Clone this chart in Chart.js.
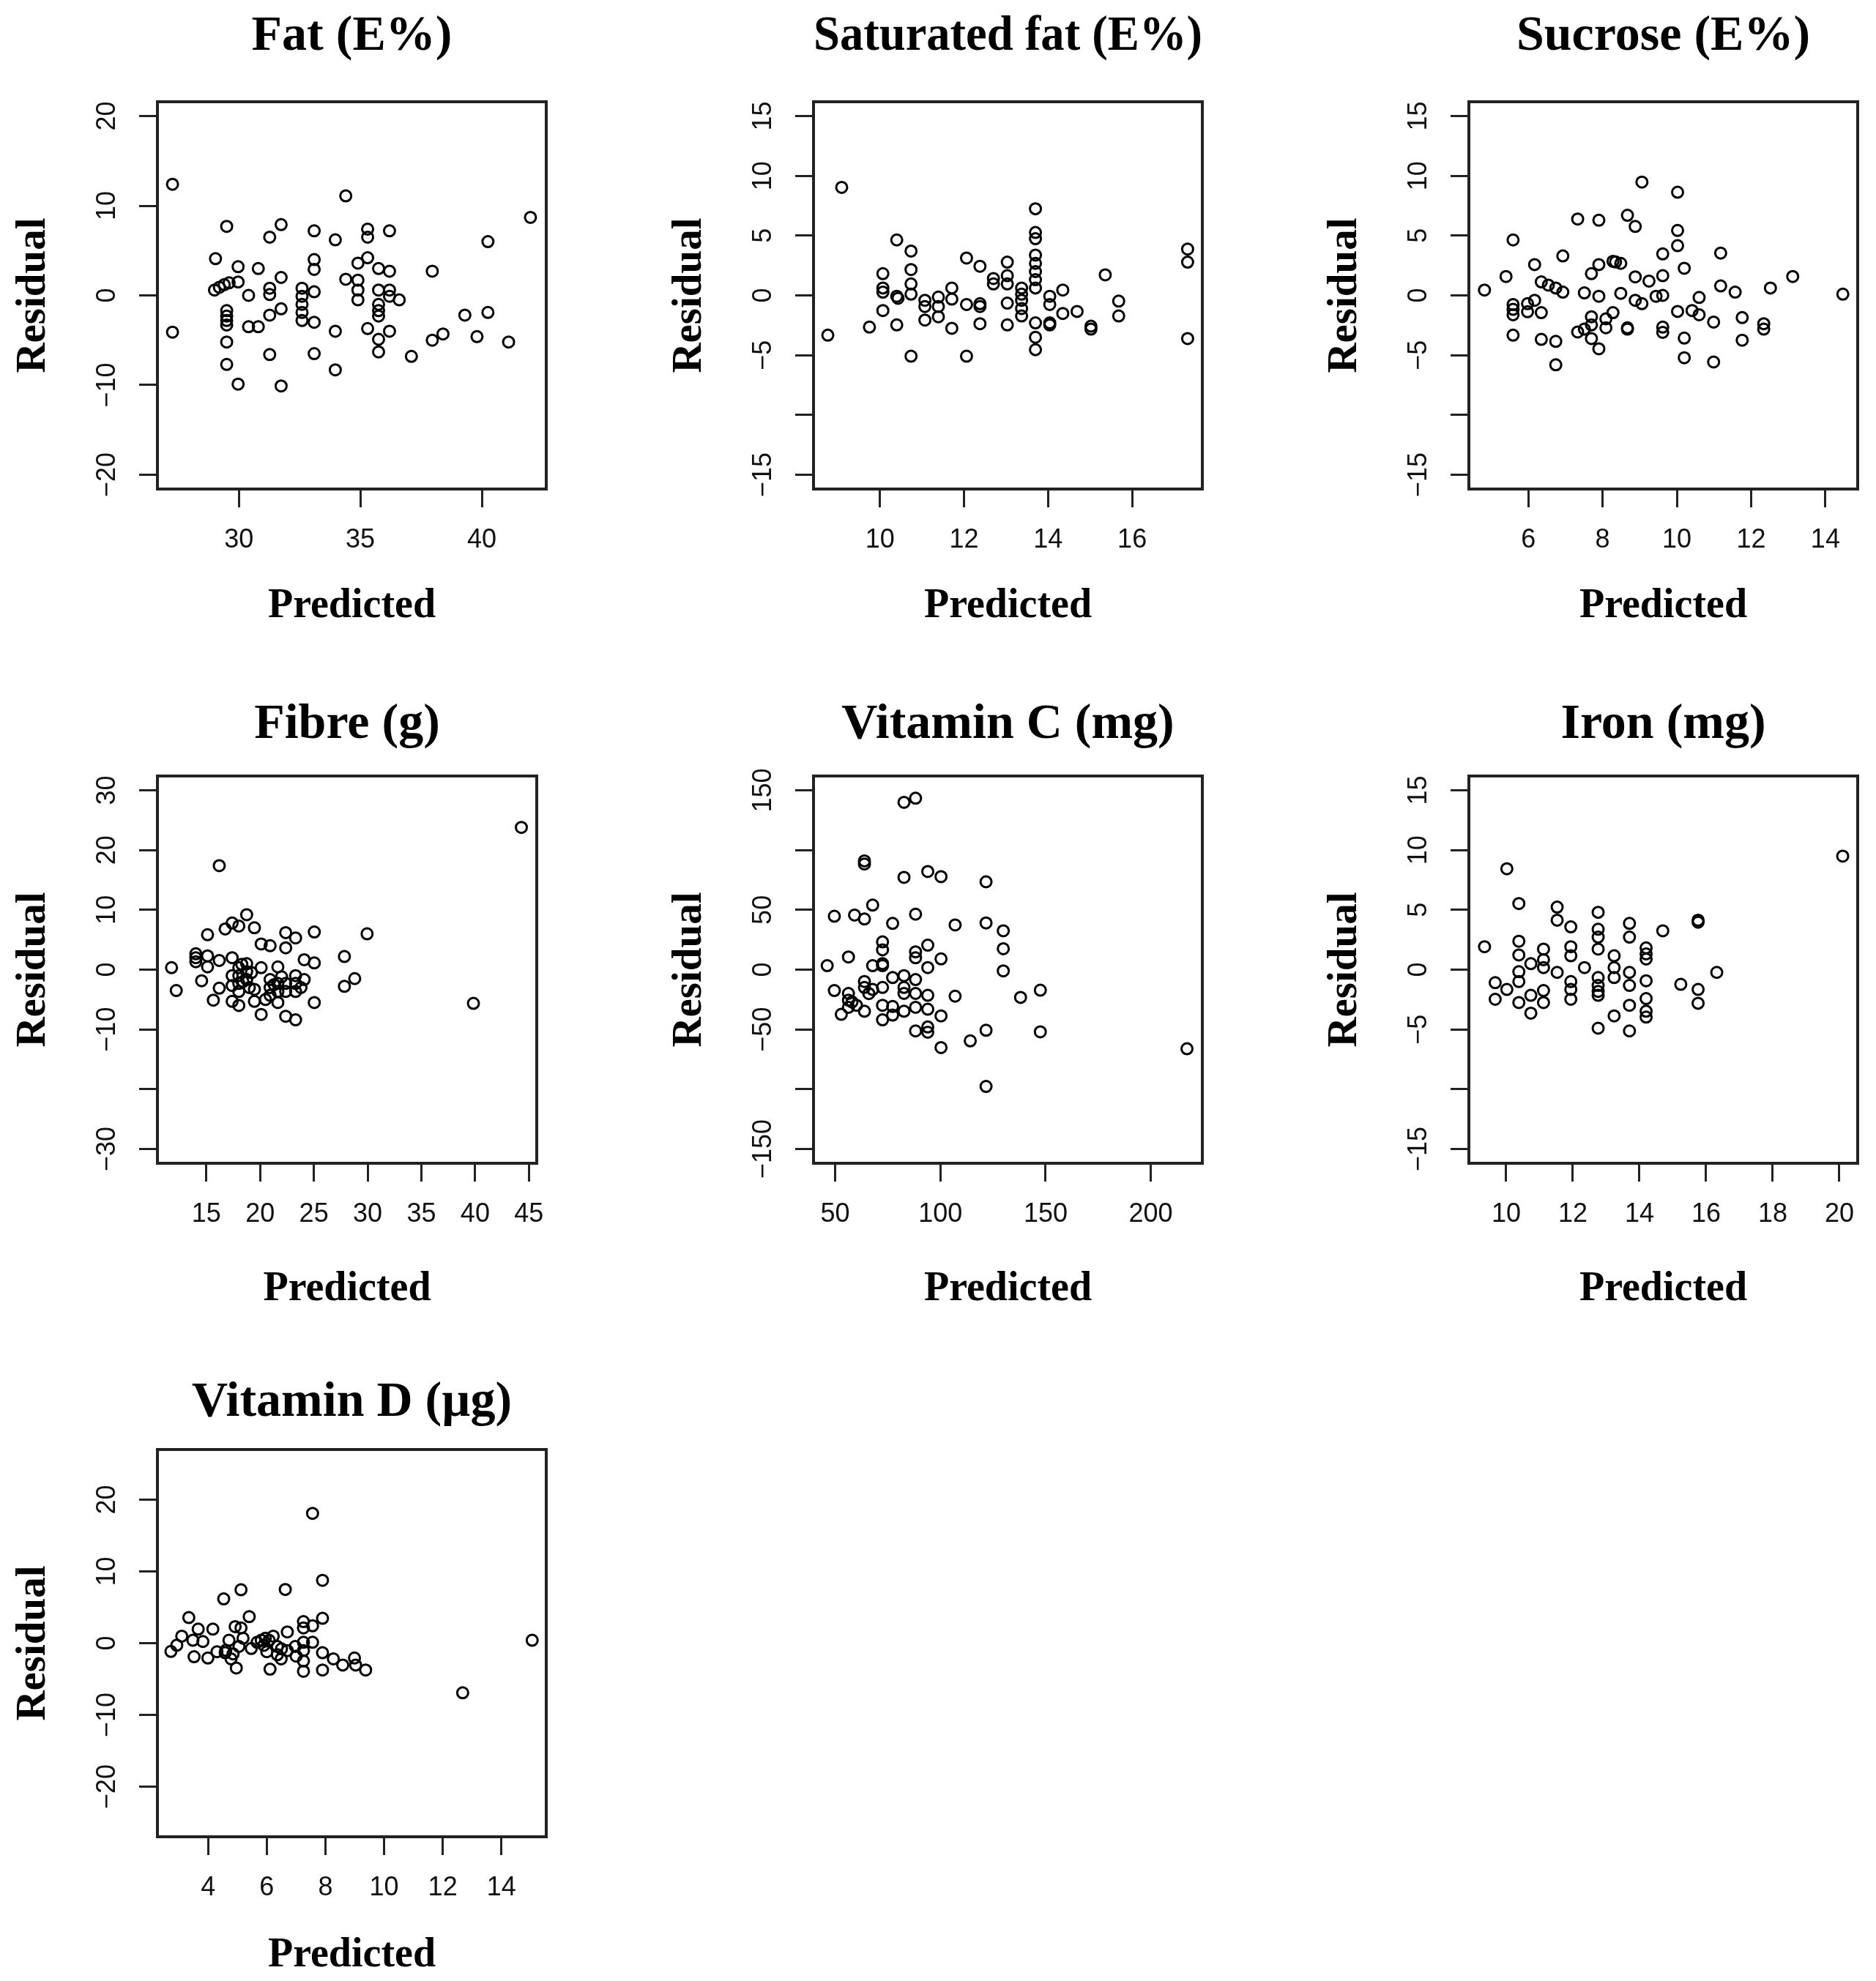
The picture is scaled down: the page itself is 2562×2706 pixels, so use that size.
<!DOCTYPE html>
<html><head><meta charset="utf-8">
<script src="https://cdn.jsdelivr.net/npm/chart.js@4"></script>
<style>
html,body{margin:0;padding:0;background:#fff;}
body{width:2562px;height:2706px;overflow:hidden;position:relative;}
canvas{position:absolute;}
</style></head><body>
<script>
// ---------- DATA ----------
const fatPredicted = [27.27,27.27,29.04,29.0,29.2,29.4,29.6,29.5,29.5,29.5,29.5,29.5,29.5,29.5,29.97,29.97,29.97,30.4,30.4,30.8,30.8,31.27,31.27,31.27,31.27,31.27,31.74,31.74,31.74,31.74,32.6,32.6,32.6,32.6,32.6,33.1,33.1,33.1,33.1,33.1,33.1,33.97,33.97,33.97,34.4,34.4,34.9,34.9,34.9,34.9,35.3,35.3,35.3,35.3,35.75,35.75,35.75,35.75,35.75,35.75,35.75,36.2,36.2,36.2,36.2,36.2,36.6,37.1,37.96,37.96,38.4,39.3,39.8,40.25,40.25,41.1,42.0];
const fatResidual  = [12.4,-4.1,4.1,0.6,0.9,1.2,1.4,7.7,-1.7,-2.3,-2.8,-3.3,-5.2,-7.7,3.2,1.5,-9.9,0,-3.5,3.0,-3.5,6.5,0.8,0.1,-2.2,-6.6,7.9,2.0,-1.5,-10.1,0.8,-0.1,-1.0,-1.9,-2.8,7.2,4.0,2.9,0.4,-3.0,-6.5,6.2,-4.0,-8.3,11.1,1.8,3.6,1.7,0.6,-0.5,7.4,6.5,4.2,-3.7,3.0,0.6,-1.0,-1.7,-2.3,-4.9,-6.3,7.2,2.7,0.6,-0.1,-4.0,-0.5,-6.8,2.7,-5.0,-4.3,-2.2,-4.6,6.0,-1.9,-5.2,8.7];

const satFatPredicted = [8.76,9.09,9.75,10.07,10.07,10.07,10.07,10.40,10.40,10.43,10.40,10.74,10.74,10.74,10.74,10.74,11.07,11.07,11.07,11.39,11.39,11.39,11.71,11.71,11.71,12.06,12.06,12.06,12.38,12.38,12.38,12.38,12.70,12.70,13.03,13.03,13.03,13.03,13.03,13.37,13.37,13.37,13.37,13.37,13.70,13.70,13.70,13.70,13.70,13.70,13.70,13.70,13.70,13.70,13.70,14.04,14.04,14.04,14.04,14.35,14.35,14.69,15.02,15.02,15.36,15.68,15.68,17.32,17.32,17.32];
const satFatResidual  = [-3.33,9.04,-2.65,1.82,0.62,0.27,-1.27,4.64,-0.07,-0.24,-2.47,3.71,2.16,0.96,0.1,-5.09,-0.41,-0.93,-2.06,-0.14,-0.93,-1.79,0.62,-0.31,-2.75,3.13,-0.76,-5.09,2.44,-0.69,-0.93,-2.37,1.41,0.96,2.78,1.65,0.96,-0.65,-2.47,0.62,0.1,-0.41,-1.1,-1.72,7.25,5.26,4.74,3.37,2.68,1.99,1.31,0.62,-2.30,-3.5,-4.54,-0.07,-0.76,-2.3,-2.47,0.45,-1.51,-1.34,-2.58,-2.82,1.72,-0.48,-1.72,3.88,2.78,-3.61];

const sucrosePredicted = [4.82,5.40,5.59,5.59,5.59,5.59,5.59,5.98,5.98,6.17,6.17,6.35,6.35,6.35,6.54,6.74,6.74,6.74,6.93,6.93,7.33,7.33,7.51,7.51,7.70,7.70,7.70,7.70,7.90,7.90,7.90,7.90,8.09,8.09,8.28,8.28,8.35,8.49,8.49,8.67,8.67,8.67,8.88,8.88,8.88,9.06,9.06,9.25,9.44,9.62,9.62,9.62,9.62,9.62,10.02,10.02,10.02,10.02,10.20,10.20,10.20,10.41,10.60,10.60,10.99,10.99,11.18,11.18,11.57,11.76,11.76,12.34,12.34,12.52,13.12,14.47];
const sucroseResidual  = [0.45,1.58,4.64,-0.76,-1.17,-1.62,-3.33,-0.69,-1.37,2.58,-0.41,1.13,-1.44,-3.68,0.86,0.62,-3.85,-5.81,3.30,0.27,6.39,-3.06,0.21,-2.82,1.82,-1.79,-2.47,-3.61,6.29,2.58,-0.07,-4.47,-1.96,-2.71,-1.44,2.85,2.80,2.68,0.17,6.70,-2.71,-2.82,5.77,1.55,-0.41,9.48,-0.69,1.20,-0.07,3.47,1.65,0,-2.65,-3.09,8.63,5.43,4.16,-1.34,2.27,-3.57,-5.22,-1.27,-0.17,-1.62,-2.23,-5.57,3.54,0.79,0.27,-1.86,-3.75,-2.37,-2.82,0.62,1.58,0.1];

const fibrePredicted = [11.76,12.2,14.02,14.02,14.02,14.56,15.11,15.11,15.11,15.65,16.2,16.2,16.2,16.75,17.4,17.4,17.4,17.4,17.4,18.02,18.02,18.02,18.02,18.02,18.02,18.75,18.75,18.75,18.75,19.47,19.47,19.47,20.1,20.1,20.1,20.93,20.93,20.93,20.93,21.65,21.65,21.65,21.65,22.38,22.38,22.38,22.38,22.38,23.3,23.3,23.3,23.3,23.3,24.1,24.1,25.04,25.04,25.04,27.84,27.84,28.8,29.95,39.84,44.3,18.4,19.0,21.3,22.0,20.5,23.8,18.3,19.2];
const fibreResidual  = [0.33,-3.5,2.65,2.0,1.33,-1.86,5.84,2.3,0.46,-5.1,17.4,1.53,-3.1,6.8,7.8,2.0,-1.0,-2.65,-5.3,7.3,0.33,-1.0,-2.3,-3.65,-6.0,9.2,1.0,-0.33,-1.66,7.0,-3.3,-5.3,4.3,0.33,-7.5,4.0,-1.66,-3.0,-4.3,0.46,-2.3,-3.65,-5.5,6.2,3.65,-2.3,-3.65,-7.8,5.3,-1.0,-2.3,-3.65,-8.4,1.66,-1.66,6.3,1.13,-5.5,2.2,-2.8,-1.5,6.0,-5.64,23.8,-2.0,-3.0,-2.5,-1.2,-5.0,-3.0,0.9,-0.5];

const vitCPredicted = [46.2,49.6,49.6,52.9,56.3,56.3,56.3,56.3,59.2,60.1,63.9,63.9,63.9,63.9,63.9,63.9,67.8,67.8,67.8,72.5,72.5,72.5,72.5,72.5,72.5,72.5,77.3,77.3,77.3,77.3,82.7,82.7,82.7,82.7,82.7,82.7,88.2,88.2,88.2,88.2,88.2,88.2,88.2,88.2,94.0,94.0,94.0,94.0,94.0,94.0,94.0,100.3,100.3,100.3,100.3,107,107,114.2,121.7,121.7,121.7,121.7,129.9,129.9,129.9,138.1,147.5,147.5,217.2,58,66];
const vitCResidual  = [3.3,44.7,-17.5,-37.4,10.6,-19.9,-25.5,-31.5,45.7,-29.8,91,88.4,42.4,-9.9,-14.9,-34.8,54.0,3.3,-16.6,23.2,16.6,5.0,3.3,-14.9,-29.8,-42,38.7,-6.6,-30.8,-38,140,77.2,-5,-14.9,-19.9,-34.8,143.4,46.4,14.9,9.9,-8.3,-19.9,-31.5,-51.3,82.1,20.5,1.7,-21.5,-33.1,-48,-52.3,77.8,9.0,-38.7,-65.2,37.4,-22.2,-59.6,73.5,39.1,-50.7,-97.7,32.5,17.5,-1.0,-23.2,-17.2,-52,-66.2,-27,-20];

const ironPredicted = [9.35,9.67,9.67,10.02,10.02,10.38,10.38,10.38,10.38,10.38,10.38,10.74,10.74,10.74,11.12,11.12,11.12,11.12,11.12,11.53,11.53,11.53,11.94,11.94,11.94,11.94,11.94,11.94,12.35,12.76,12.76,12.76,12.76,12.76,12.76,12.76,12.76,12.76,13.24,13.24,13.24,13.24,13.7,13.7,13.7,13.7,13.7,13.7,14.2,14.2,14.2,14.2,14.2,14.2,14.2,14.7,15.24,15.76,15.76,15.76,15.76,16.32,20.1];
const ironResidual  = [1.92,-1.09,-2.48,8.44,-1.66,5.53,2.38,1.23,-0.17,-1.0,-2.75,0.5,-2.15,-3.64,1.72,0.83,0.17,-1.75,-2.75,5.23,4.14,-0.23,3.58,1.92,1.16,-1.0,-1.66,-2.48,0.17,4.8,3.38,2.72,1.72,-0.66,-1.32,-1.82,-2.15,-4.9,1.16,0.17,-0.66,-3.87,3.87,2.72,-0.23,-1.32,-2.98,-5.13,1.82,1.32,0.89,-0.93,-2.42,-3.48,-3.97,3.25,-1.23,4.14,3.97,-1.66,-2.81,-0.23,9.5];

const vitDPredicted = [2.73,2.93,3.10,3.34,3.48,3.52,3.66,3.82,3.99,4.16,4.30,4.53,4.58,4.71,4.78,4.92,4.96,5.05,5.12,5.12,5.19,5.40,5.47,5.67,5.81,5.95,6.08,6.22,6.11,6.36,6.36,6.49,6.63,6.70,6.70,6.97,7.25,7.25,7.25,7.25,7.25,7.25,7.56,7.56,7.56,7.90,7.90,7.90,7.90,8.27,8.59,8.99,9.03,9.37,12.68,15.05,4.6,4.85,5.9,6.0,6.5,7.0];
const vitDResidual  = [-1.15,-0.29,0.98,3.57,0.4,-1.9,1.96,0.23,-2.07,1.96,-1.2,6.17,-1.33,0.4,-2.19,2.3,-3.46,-0.46,7.44,2.13,0.69,3.69,-0.75,0.12,0.4,0.69,0.4,0.98,-3.63,-0.46,-1.61,-2.19,7.49,1.56,-1.04,-0.46,3.0,2.13,0.12,-1.04,-2.48,-3.92,18.1,2.42,0.12,8.76,3.46,-1.33,-3.75,-2.19,-3.05,-2.07,-3.05,-3.75,-6.92,0.4,-1.0,-1.5,-0.3,-1.2,-0.8,-1.8];

// tick values / labels
const fatXTicks = [30,35,40];
const fatYTicks = [-20,-10,0,10,20];
const fatYLabels = ['\u221220','\u221210','0','10','20'];
const satFatXTicks = [10,12,14,16];
const satFatYTicks = [-15,-10,-5,0,5,10,15];
const satFatYLabels = ['\u221215','','\u22125','0','5','10','15'];
const sucroseXTicks = [6,8,10,12,14];
const sucroseYTicks = [-15,-10,-5,0,5,10,15];
const sucroseYLabels = ['\u221215','','\u22125','0','5','10','15'];
const fibreXTicks = [15,20,25,30,35,40,45];
const fibreYTicks = [-30,-20,-10,0,10,20,30];
const fibreYLabels = ['\u221230','','\u221210','0','10','20','30'];
const vitCXTicks = [50,100,150,200];
const vitCYTicks = [-150,-100,-50,0,50,100,150];
const vitCYLabels = ['\u2212150','','\u221250','0','50','','150'];
const ironXTicks = [10,12,14,16,18,20];
const ironYTicks = [-15,-10,-5,0,5,10,15];
const ironYLabels = ['\u221215','','\u22125','0','5','10','15'];
const vitDXTicks = [4,6,8,10,12,14];
const vitDYTicks = [-20,-10,0,10,20];
const vitDYLabels = ['\u221220','\u221210','0','10','20'];

const titles = ['Fat (E%)','Saturated fat (E%)','Sucrose (E%)','Fibre (g)','Vitamin C (mg)','Iron (mg)','Vitamin D (\u00b5g)'];

// ---------- PANELS (layout + scale ranges) ----------
const panels = [
  {title:titles[0], pred:fatPredicted, resid:fatResidual, xt:fatXTicks, yt:fatYTicks, yl:fatYLabels, xr:[26.65,42.65], yr:[-21.6,21.6], L:215, T:139, tp:9.8, xp:26},
  {title:titles[1], pred:satFatPredicted, resid:satFatResidual, xt:satFatXTicks, yt:satFatYTicks, yl:satFatYLabels, xr:[8.42,17.67], yr:[-16.2,16.2], L:1111, T:139, tp:9.8, xp:26},
  {title:titles[2], pred:sucrosePredicted, resid:sucroseResidual, xt:sucroseXTicks, yt:sucroseYTicks, yl:sucroseYLabels, xr:[4.40,14.87], yr:[-16.2,16.2], L:2006, T:139, tp:9.8, xp:26},
  {title:titles[3], pred:fibrePredicted, resid:fibreResidual, xt:fibreXTicks, yt:fibreYTicks, yl:fibreYLabels, xr:[10.45,45.73], yr:[-32.4,32.4], L:215, T:1060, tp:28.8, xp:14},
  {title:titles[4], pred:vitCPredicted, resid:vitCResidual, xt:vitCXTicks, yt:vitCYTicks, yl:vitCYLabels, xr:[39.7,224.5], yr:[-162,162], L:1111, T:1060, tp:28.8, xp:14},
  {title:titles[5], pred:ironPredicted, resid:ironResidual, xt:ironXTicks, yt:ironYTicks, yl:ironYLabels, xr:[8.88,20.55], yr:[-16.2,16.2], L:2006, T:1060, tp:28.8, xp:14},
  {title:titles[6], pred:vitDPredicted, resid:vitDResidual, xt:vitDXTicks, yt:vitDYTicks, yl:vitDYLabels, xr:[2.27,15.53], yr:[-27,27], L:215, T:1980, tp:34.8, xp:24}
];

const BOX_W = 531, BOX_H = 529, AX_W = 215, TITLE_H = 139, AX_H = 220, PAD_R = 20;
const SERIF = '"Liberation Serif", "Times New Roman", Times, serif';
const SANS = '"Liberation Sans", Arial, Helvetica, sans-serif';
const TICK_SIZE = 36;
const mctx = document.createElement('canvas').getContext('2d');
mctx.font = TICK_SIZE + 'px ' + SANS;

const boxPlugin = {
  id:'rbox',
  afterDatasetsDraw(chart){
    const a = chart.chartArea, ctx = chart.ctx;
    ctx.save();
    ctx.strokeStyle = '#222'; ctx.lineWidth = 4;
    ctx.strokeRect(a.left, a.top, a.right - a.left, a.bottom - a.top);
    ctx.restore();
  }
};

panels.forEach(p => {
  const W = AX_W + BOX_W + PAD_R, H = TITLE_H + BOX_H + AX_H;
  const c = document.createElement('canvas');
  c.width = W; c.height = H;
  c.style.width = W + 'px'; c.style.height = H + 'px';
  c.style.left = (p.L - AX_W) + 'px'; c.style.top = (p.T - TITLE_H) + 'px';
  document.body.appendChild(c);
  const widest = Math.max(...p.yl.map(l => mctx.measureText(l).width));
  const yPad = 68 - 25 - widest / 2;
  const titleLH = 68 * 1.2;
  new Chart(c, {
    type:'scatter',
    data:{datasets:[{
      data:p.pred.map((x,i)=>({x:x, y:p.resid[i]})),
      pointStyle:'circle', pointRadius:7.5, pointHoverRadius:7.5,
      borderColor:'#000', backgroundColor:'rgba(0,0,0,0)', borderWidth:3
    }]},
    options:{
      responsive:false, animation:false, devicePixelRatio:1,
      layout:{padding:{left:0, right:PAD_R, top:0, bottom:0}},
      plugins:{
        legend:{display:false}, tooltip:{enabled:false},
        title:{display:true, text:p.title, fullSize:false, color:'#000',
          font:{family:SERIF, size:68, weight:'bold', lineHeight:1.2},
          padding:{top:p.tp, bottom:TITLE_H - titleLH - p.tp}}
      },
      scales:{
        x:{type:'linear', position:'bottom', min:p.xr[0], max:p.xr[1],
          afterBuildTicks:s=>{ s.ticks = p.xt.map(v=>({value:v})); },
          afterFit:s=>{ s.height = AX_H; },
          ticks:{autoSkip:false, minRotation:0, maxRotation:0, padding:23, color:'#111',
            font:{family:SANS, size:TICK_SIZE}, callback:v=>String(v)},
          grid:{display:true, drawOnChartArea:false, drawTicks:true, tickLength:25, tickWidth:3, tickColor:'#222', color:'#222', lineWidth:3},
          border:{display:false},
          title:{display:true, text:'Predicted', color:'#000',
            font:{family:SERIF, size:56, weight:'bold', lineHeight:1.2}, padding:{top:0, bottom:p.xp}}
        },
        y:{type:'linear', position:'left', min:p.yr[0], max:p.yr[1],
          afterBuildTicks:s=>{ s.ticks = p.yt.map(v=>({value:v})); },
          afterFit:s=>{ s.width = AX_W; },
          ticks:{autoSkip:false, minRotation:90, maxRotation:90, crossAlign:'center', padding:yPad, color:'#111',
            font:{family:SANS, size:TICK_SIZE},
            callback:v=>{ const i = p.yt.indexOf(v); return i >= 0 ? p.yl[i] : ''; }},
          grid:{display:true, drawOnChartArea:false, drawTicks:true, tickLength:25, tickWidth:3, tickColor:'#222', color:'#222', lineWidth:3},
          border:{display:false},
          title:{display:true, text:'Residual', color:'#000',
            font:{family:SERIF, size:57, weight:'bold', lineHeight:1.2}, padding:{top:12, bottom:0}}
        }
      }
    },
    plugins:[boxPlugin]
  });
});
</script>
</body></html>
